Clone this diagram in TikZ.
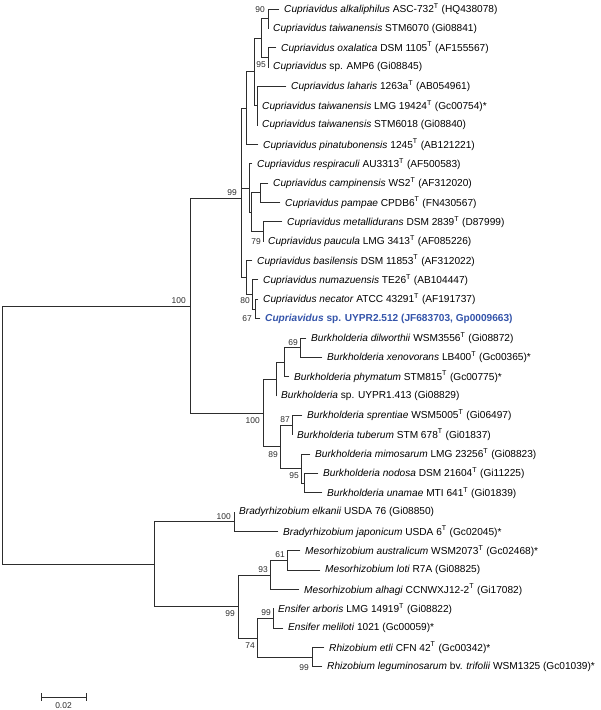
\documentclass[tikz,border=0pt]{standalone}
\usepackage{fontspec}
\setmainfont{Liberation Sans}
\usepackage{xcolor}
\usetikzlibrary{calc}
\definecolor{treegray}{RGB}{45, 45, 45}
\definecolor{isoblue}{RGB}{52, 84, 170}

\begin{document}
\begin{tikzpicture}[x=0.025cm, y=-0.025cm,
    branch/.style={draw=treegray, line width=0.65pt, line cap=rect},
    tax/.style={anchor=west, inner sep=0pt, xshift=3.5pt,
        font=\fontsize{7.2}{8.6}\selectfont, text=black},
    ours/.style={tax, text=isoblue, font=\fontsize{7.2}{8.6}\selectfont\bfseries},
    boot/.style={inner sep=0pt, font=\fontsize{6}{7}\selectfont, text=treegray},
]

\newcommand{\br}[2]{\draw[branch] (#1) |- (#2);}
\newcommand{\tT}{\textsuperscript{T}}

    \useasboundingbox (0,0) rectangle (600,710);

    % --- raiz y clados principales ---
    \coordinate (root) at (2,435);
    \coordinate (beta) at (190,306);
    \coordinate (alfa) at (154,564);
    \coordinate (cup)  at (241,198);
    \coordinate (bur)  at (263,413);

    % --- Cupriavidus ---
    \coordinate (cA)   at (268,18.7);
    \coordinate (cB)   at (268,57.4);
    \coordinate (cAB)  at (261,38);
    \coordinate (cC)   at (257,105.8);
    \coordinate (cABC) at (254,71.9);
    \coordinate (cP)   at (246,108.2);
    \coordinate (cCP)  at (260,192.9);
    \coordinate (cMP)  at (263,231.6);
    \coordinate (cQ)   at (251,212.2);
    \coordinate (cR)   at (249,188);
    \coordinate (cNU)  at (255,309);
    \coordinate (cN)   at (252,294.4);
    \coordinate (cL)   at (246,277.5);

    \coordinate (t1)  at (279,9);     \coordinate (t2)  at (268,28.4);
    \coordinate (t3)  at (276,47.7);  \coordinate (t4)  at (268,67.1);
    \coordinate (t5)  at (286,86.4);  \coordinate (t6)  at (257,105.8);
    \coordinate (t7)  at (257,125.1); \coordinate (t8)  at (258,144.5);
    \coordinate (t9)  at (252,163.8); \coordinate (t10) at (268,183.2);
    \coordinate (t11) at (280,202.5); \coordinate (t12) at (282,221.9);
    \coordinate (t13) at (263,241.2); \coordinate (t14) at (252,260.6);
    \coordinate (t15) at (258,279.9); \coordinate (t16) at (258,299.3);
    \coordinate (t17) at (260,318.6);

    % --- Burkholderia ---
    \coordinate (bU)   at (276,379.1);
    \coordinate (bP)   at (284,362.2);
    \coordinate (b69)  at (300,347.7);
    \coordinate (bL)   at (280,446.8);
    \coordinate (b87)  at (292,425);
    \coordinate (b95)  at (301,468.6);
    \coordinate (bNU)  at (304,483.1);

    \coordinate (t18) at (306,338);   \coordinate (t19) at (322,357.3);
    \coordinate (t20) at (289,376.7); \coordinate (t21) at (276,396);
    \coordinate (t22) at (302,415.4); \coordinate (t23) at (292,434.7);
    \coordinate (t24) at (310,454.1); \coordinate (t25) at (318,473.4);
    \coordinate (t26) at (322,492.8);

    % --- rizobios alfa ---
    \coordinate (brady) at (234,521.8);
    \coordinate (aR)    at (238,606.5);
    \coordinate (meso)  at (270,575);
    \coordinate (m61)   at (287,560.5);
    \coordinate (er)    at (257,638);
    \coordinate (ens)   at (273,618.6);
    \coordinate (rhi)   at (312,657.3);

    \coordinate (t27) at (234,512.1); \coordinate (t28) at (278,531.5);
    \coordinate (t29) at (300,550.8); \coordinate (t30) at (320,570.2);
    \coordinate (t31) at (299,589.5); \coordinate (t32) at (273,608.9);
    \coordinate (t33) at (283,628.2); \coordinate (t34) at (324,647.6);
    \coordinate (t35) at (322,666.9);

    % --- ramas ---
    \br{root}{beta} \br{root}{alfa}
    \br{beta}{cup}  \br{beta}{bur}
    \br{cup}{cP}    \br{cup}{cR}   \br{cup}{cL}
    \br{cP}{cABC}   \br{cP}{t8}
    \br{cABC}{cAB}  \br{cABC}{cC}
    \br{cAB}{cA}    \br{cAB}{cB}
    \br{cA}{t1}     \br{cA}{t2}
    \br{cB}{t3}     \br{cB}{t4}
    \br{cC}{t5}     \br{cC}{t6}    \br{cC}{t7}
    \br{cR}{t9}     \br{cR}{cQ}
    \br{cQ}{cCP}    \br{cQ}{cMP}
    \br{cCP}{t10}   \br{cCP}{t11}
    \br{cMP}{t12}   \br{cMP}{t13}
    \br{cL}{t14}    \br{cL}{cN}
    \br{cN}{t15}    \br{cN}{cNU}
    \br{cNU}{t16}   \br{cNU}{t17}

    \br{bur}{bU}    \br{bur}{bL}
    \br{bU}{bP}     \br{bU}{t21}
    \br{bP}{b69}    \br{bP}{t20}
    \br{b69}{t18}   \br{b69}{t19}
    \br{bL}{b87}    \br{bL}{b95}
    \br{b87}{t22}   \br{b87}{t23}
    \br{b95}{t24}   \br{b95}{bNU}
    \br{bNU}{t25}   \br{bNU}{t26}

    \br{alfa}{brady} \br{alfa}{aR}
    \br{brady}{t27} \br{brady}{t28}
    \br{aR}{meso}   \br{aR}{er}
    \br{meso}{m61}  \br{meso}{t31}
    \br{m61}{t29}   \br{m61}{t30}
    \br{er}{ens}    \br{er}{rhi}
    \br{ens}{t32}   \br{ens}{t33}
    \br{rhi}{t34}   \br{rhi}{t35}

    % --- nombres de las cepas ---
    \node[tax] (n1)  at (t1)  {\textit{Cupriavidus alkaliphilus} ASC-732\tT{} (HQ438078)};
    \node[tax] (n2)  at (t2)  {\textit{Cupriavidus taiwanensis} STM6070 (Gi08841)};
    \node[tax] (n3)  at (t3)  {\textit{Cupriavidus oxalatica} DSM 1105\tT{} (AF155567)};
    \node[tax] (n4)  at (t4)  {\textit{Cupriavidus} sp. AMP6 (Gi08845)};
    \node[tax] (n5)  at (t5)  {\textit{Cupriavidus laharis} 1263a\tT{} (AB054961)};
    \node[tax] (n6)  at (t6)  {\textit{Cupriavidus taiwanensis} LMG 19424\tT{} (Gc00754)*};
    \node[tax] (n7)  at (t7)  {\textit{Cupriavidus taiwanensis} STM6018 (Gi08840)};
    \node[tax] (n8)  at (t8)  {\textit{Cupriavidus pinatubonensis} 1245\tT{} (AB121221)};
    \node[tax] (n9)  at (t9)  {\textit{Cupriavidus respiraculi} AU3313\tT{} (AF500583)};
    \node[tax] (n10) at (t10) {\textit{Cupriavidus campinensis} WS2\tT{} (AF312020)};
    \node[tax] (n11) at (t11) {\textit{Cupriavidus pampae} CPDB6\tT{} (FN430567)};
    \node[tax] (n12) at (t12) {\textit{Cupriavidus metallidurans} DSM 2839\tT{} (D87999)};
    \node[tax] (n13) at (t13) {\textit{Cupriavidus paucula} LMG 3413\tT{} (AF085226)};
    \node[tax] (n14) at (t14) {\textit{Cupriavidus basilensis} DSM 11853\tT{} (AF312022)};
    \node[tax] (n15) at (t15) {\textit{Cupriavidus numazuensis} TE26\tT{} (AB104447)};
    \node[tax] (n16) at (t16) {\textit{Cupriavidus necator} ATCC 43291\tT{} (AF191737)};
    \node[ours] (n17) at (t17) {\textit{Cupriavidus} sp. UYPR2.512 (JF683703, Gp0009663)};
    \node[tax] (n18) at (t18) {\textit{Burkholderia dilworthii} WSM3556\tT{} (Gi08872)};
    \node[tax] (n19) at (t19) {\textit{Burkholderia xenovorans} LB400\tT{} (Gc00365)*};
    \node[tax] (n20) at (t20) {\textit{Burkholderia phymatum} STM815\tT{} (Gc00775)*};
    \node[tax] (n21) at (t21) {\textit{Burkholderia} sp. UYPR1.413 (Gi08829)};
    \node[tax] (n22) at (t22) {\textit{Burkholderia sprentiae} WSM5005\tT{} (Gi06497)};
    \node[tax] (n23) at (t23) {\textit{Burkholderia tuberum} STM 678\tT{} (Gi01837)};
    \node[tax] (n24) at (t24) {\textit{Burkholderia mimosarum} LMG 23256\tT{} (Gi08823)};
    \node[tax] (n25) at (t25) {\textit{Burkholderia nodosa} DSM 21604\tT{} (Gi11225)};
    \node[tax] (n26) at (t26) {\textit{Burkholderia unamae} MTI 641\tT{} (Gi01839)};
    \node[tax] (n27) at (t27) {\textit{Bradyrhizobium elkanii} USDA 76 (Gi08850)};
    \node[tax] (n28) at (t28) {\textit{Bradyrhizobium japonicum} USDA 6\tT{} (Gc02045)*};
    \node[tax] (n29) at (t29) {\textit{Mesorhizobium australicum} WSM2073\tT{} (Gc02468)*};
    \node[tax] (n30) at (t30) {\textit{Mesorhizobium loti} R7A (Gi08825)};
    \node[tax] (n31) at (t31) {\textit{Mesorhizobium alhagi} CCNWXJ12-2\tT{} (Gi17082)};
    \node[tax] (n32) at (t32) {\textit{Ensifer arboris} LMG 14919\tT{} (Gi08822)};
    \node[tax] (n33) at (t33) {\textit{Ensifer meliloti} 1021 (Gc00059)*};
    \node[tax] (n34) at (t34) {\textit{Rhizobium etli} CFN 42\tT{} (Gc00342)*};
    \node[tax] (n35) at (t35) {\textit{Rhizobium leguminosarum} bv. \textit{trifolii} WSM1325 (Gc01039)*};

    % --- valores de bootstrap ---
    \node[boot, anchor=south east] (v1)  at (186,304) {100};
    \node[boot, anchor=south east] (v2)  at (237,196) {99};
    \node[boot, anchor=east]       (v3)  at (265,10)  {90};
    \node[boot, anchor=east]       (v4)  at (266,65)  {95};
    \node[boot, anchor=east]       (v5)  at (261,242) {79};
    \node[boot, anchor=east]       (v6)  at (250,301) {80};
    \node[boot, anchor=east]       (v7)  at (252,319) {67};
    \node[boot, anchor=south east] (v8)  at (298,346) {69};
    \node[boot, anchor=north east] (v9)  at (260,417) {100};
    \node[boot, anchor=south east] (v10) at (290,423) {87};
    \node[boot, anchor=north east] (v11) at (278,451) {89};
    \node[boot, anchor=north east] (v12) at (299,472) {95};
    \node[boot, anchor=south east] (v13) at (231,520) {100};
    \node[boot, anchor=south east] (v14) at (285,558) {61};
    \node[boot, anchor=south east] (v15) at (268,573) {93};
    \node[boot, anchor=north east] (v16) at (235,610) {99};
    \node[boot, anchor=south east] (v17) at (271,616) {99};
    \node[boot, anchor=north east] (v18) at (255,642) {74};
    \node[boot, anchor=east]       (v19) at (309,668) {99};

    % --- escala ---
    \coordinate (sbl) at (41,697);
    \coordinate (sbr) at (86,697);
    \draw[branch, line cap=butt] (sbl) -- (sbr);
    \draw[branch, line cap=butt] ($(sbl)+(0,-4)$) -- ($(sbl)+(0,4)$);
    \draw[branch, line cap=butt] ($(sbr)+(0,-4)$) -- ($(sbr)+(0,4)$);
    \node[boot, anchor=north] (sbt) at ($(sbl)!0.5!(sbr)+(0,5)$) {0.02};

\end{tikzpicture}
\end{document}
